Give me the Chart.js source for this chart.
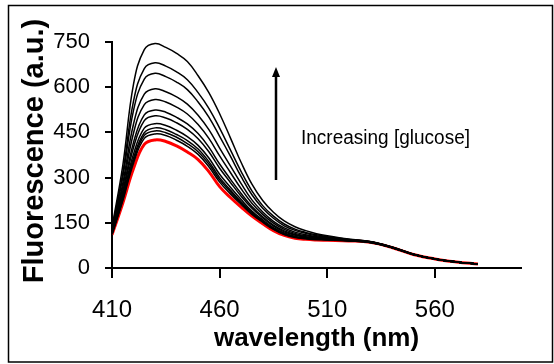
<!DOCTYPE html>
<html>
<head>
<meta charset="utf-8">
<script src="https://cdn.jsdelivr.net/npm/chart.js@4/dist/chart.umd.min.js"></script>
<style>
html,body{margin:0;padding:0;background:#fff;}
#c{display:block;}
</style>
</head>
<body>
<canvas id="c" width="554" height="364"></canvas>
<script>
const wavelengths = [410,415,420,425,430,435,440,445,450,455,460,465,470,475,480,485,490,495,500,505,510,520,530,540,550,560,570,580];

const curve1  = [135,340,610,725,745,732,712,685,638,582,512,432,350,278,224,185,156,137,124,114,107,96,88,70,46,30,20,13];
const curve2  = [130,315,554,662,681,670,651,625,582,530,464,392,320,256,207,172,146,129,118,110,104,95,87,70,46,30,20,13];
const curve3  = [127,301,523,627,646,635,617,592,551,501,437,371,303,243,198,165,140,125,115,107,102,94,87,69,46,30,20,13];
const curve4  = [123,281,478,577,595,585,568,544,507,459,398,339,280,226,186,155,133,119,110,104,100,93,87,69,46,30,20,13];
const curve5  = [121,268,448,542,559,551,534,511,476,430,372,317,263,215,178,149,128,115,107,102,98,93,86,69,45,30,20,13];
const curve6  = [118,254,417,508,524,517,500,478,446,401,345,295,247,204,170,142,123,111,104,100,97,92,86,68,45,30,20,13];
const curve7  = [116,246,400,489,505,498,482,460,429,386,331,284,238,198,166,139,120,109,102,98,96,92,86,68,45,30,20,13];
const curve8  = [114,236,378,464,479,473,457,436,407,365,311,268,227,189,160,134,116,105,100,97,95,91,85,68,45,30,20,13];
const curve9  = [113,231,365,449,465,459,443,423,395,353,300,259,220,185,156,131,114,104,99,96,94,91,85,68,45,30,20,13];
const curve10 = [112,227,356,440,455,449,434,413,386,345,293,253,216,182,154,130,112,103,98,95,93,90,85,68,45,30,20,13];
const curve11 = [111,223,348,430,445,440,424,404,377,336,285,246,211,178,152,128,111,101,97,94,93,90,85,68,45,30,20,13];
const redCurve = [110,215,330,410,425,420,405,385,360,320,270,234,202,172,147,124,108,99,95,93,92,90,85,68,45,30,20,13];

const xTicks = [410,460,510,560];
const yTicks = [0,150,300,450,600,750];
const xTitle = 'wavelength (nm)';
const yTitle = 'Fluorescence (a.u.)';
const annotationText = 'Increasing [glucose]';

const FONT = '"Liberation Sans", Arial, Helvetica, sans-serif';

const blackCurves = [curve1,curve2,curve3,curve4,curve5,curve6,curve7,curve8,curve9,curve10,curve11];
const toPts = arr => arr.map((v,i)=>({x:wavelengths[i], y:v}));

const datasets = blackCurves.map(c => ({
  data: toPts(c), borderColor:'#000', borderWidth:1.5, pointRadius:0, fill:false,
  tension:0.4
}));
datasets.push({
  data: toPts(redCurve), borderColor:'#ff0000', borderWidth:3, pointRadius:0, fill:false,
  tension:0.4
});

const deco = {
  id:'deco',
  beforeDraw(chart){
    const ctx = chart.ctx;
    ctx.save();
    ctx.fillStyle = '#fff';
    ctx.fillRect(0,0,chart.width,chart.height);
    ctx.restore();
  },
  afterDraw(chart){
    const ctx = chart.ctx;
    const xs = chart.scales.x;
    ctx.save();
    // outer frame
    ctx.strokeStyle = '#000';
    ctx.lineWidth = 1.5;
    ctx.strokeRect(8.5, 5.5, 544, 356.5);
    // y title
    ctx.fillStyle = '#000';
    ctx.font = 'bold 29px ' + FONT;
    ctx.save();
    ctx.translate(43, 151);
    ctx.rotate(-Math.PI/2);
    ctx.textAlign = 'center';
    ctx.textBaseline = 'alphabetic';
    ctx.fillText(yTitle, 0, 0);
    ctx.restore();
    // x title
    ctx.font = 'bold 26px ' + FONT;
    ctx.textAlign = 'center';
    ctx.textBaseline = 'alphabetic';
    ctx.fillText(xTitle, (xs.left + xs.right)/2, 346);
    // arrow
    ctx.strokeStyle = '#000';
    ctx.lineWidth = 2.5;
    ctx.beginPath();
    ctx.moveTo(276, 180);
    ctx.lineTo(276, 74);
    ctx.stroke();
    ctx.beginPath();
    ctx.moveTo(276, 67);
    ctx.lineTo(272, 77);
    ctx.lineTo(280, 77);
    ctx.closePath();
    ctx.fill();
    // annotation
    ctx.save();
    ctx.font = '20px ' + FONT;
    ctx.textAlign = 'left';
    ctx.textBaseline = 'alphabetic';
    ctx.translate(301, 144);
    ctx.scale(0.95, 1);
    ctx.fillText(annotationText, 0, 0);
    ctx.restore();
    ctx.restore();
  }
};

new Chart(document.getElementById('c'), {
  type:'line',
  data:{datasets},
  options:{
    responsive:false,
    animation:false,
    devicePixelRatio:1,
    layout:{padding:{top:42,right:33,bottom:0,left:0}},
    plugins:{legend:{display:false}, tooltip:{enabled:false}},
    scales:{
      x:{
        type:'linear', min:410, max:600,
        afterBuildTicks: s => { s.ticks = xTicks.map(v=>({value:v})); },
        afterFit: s => { s.height = 96; },
        grid:{drawOnChartArea:false, drawTicks:true, tickLength:10, color:'#000', lineWidth:2},
        border:{color:'#000', width:2},
        ticks:{color:'#000', font:{family:FONT, size:24}, padding:18, maxRotation:0, autoSkip:false}
      },
      y:{
        type:'linear', min:0, max:750,
        afterBuildTicks: s => { s.ticks = yTicks.map(v=>({value:v})); },
        afterFit: s => { s.width = 112; },
        grid:{drawOnChartArea:false, drawTicks:true, tickLength:7, color:'#000', lineWidth:2},
        border:{color:'#000', width:2},
        ticks:{color:'#000', font:{family:FONT, size:22}, padding:15, autoSkip:false}
      }
    }
  },
  plugins:[deco]
});
</script>
</body>
</html>
